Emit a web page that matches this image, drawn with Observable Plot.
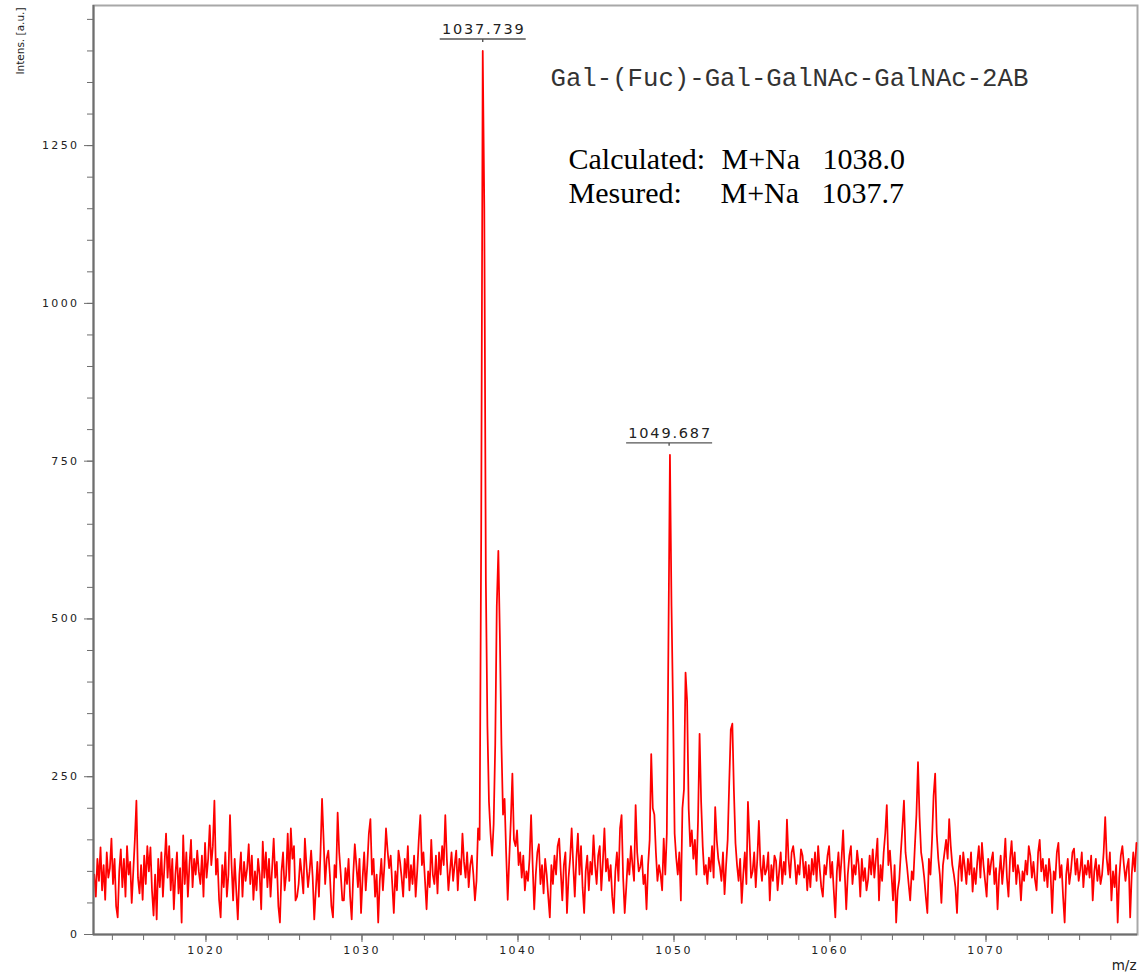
<!DOCTYPE html>
<html><head><meta charset="utf-8">
<script src="https://cdn.jsdelivr.net/npm/d3@7"></script>
<script src="https://cdn.jsdelivr.net/npm/@observablehq/plot@0.6"></script>
<style>
body{margin:0;background:#fff;}
#chart svg g[aria-label="y-axis tick label"] text,
#chart svg g[aria-label="x-axis tick label"] text{letter-spacing:2.4px;}
</style>
</head><body><div id="chart"></div>
<script>
const mzStart = 1012.84;
const mzStep = 0.1;
const intensity = [
 95, 60, 120, 85, 138, 70, 110, 55, 130, 90,
 105, 152, 80, 120, 45, 27, 100, 135, 75, 120,
 60, 140, 95, 115, 50, 100, 150, 212, 90, 65,
 110, 55, 125, 80, 140, 100, 138, 70, 30, 95,
 24, 120, 75, 130, 60, 110, 160, 90, 140, 70,
 120, 40, 95, 130, 65, 105, 19, 157, 80, 130,
 60, 110, 150, 75, 120, 95, 133, 100, 80, 125,
 60, 145, 90, 120, 173, 110, 140, 212, 95, 120,
 55, 27, 110, 75, 130, 60, 95, 189, 110, 54,
 120, 70, 24, 95, 130, 60, 115, 85, 105, 143,
 80, 125, 55, 100, 70, 120, 95, 40, 147, 90,
 130, 75, 120, 60, 105, 152, 90, 115, 45, 19,
 100, 130, 70, 95, 160, 85, 168, 120, 140, 54,
 60, 80, 120, 95, 65, 152, 110, 75, 100, 133,
 90, 24, 70, 115, 60, 130, 215, 150, 80, 120,
 133, 95, 45, 27, 110, 90, 193, 130, 95, 54,
 54, 105, 80, 120, 60, 24, 95, 143, 110, 75,
 120, 34, 90, 130, 70, 110, 160, 183, 95, 120,
 60, 95, 19, 85, 120, 70, 110, 168, 133, 105,
 125, 80, 34, 100, 70, 133, 115, 90, 60, 120,
 90, 140, 70, 110, 80, 125, 60, 100, 150, 189,
 110, 130, 85, 40, 100, 75, 150, 95, 80, 125,
 65, 130, 95, 140, 110, 189, 120, 70, 100, 130,
 85, 110, 133, 70, 120, 95, 160, 115, 90, 130,
 75, 110, 125, 95, 54, 85, 168, 150, 630, 1400,
 1150, 560, 330, 210, 160, 125, 175, 300, 520, 608,
 470, 300, 190, 215, 130, 55, 120, 180, 255, 150,
 140, 165, 110, 130, 90, 125, 70, 100, 85, 120,
 189, 110, 40, 95, 130, 143, 80, 110, 65, 120,
 95, 60, 27, 110, 80, 125, 95, 140, 152, 100,
 54, 110, 130, 34, 90, 120, 168, 110, 60, 120,
 160, 95, 140, 75, 34, 100, 125, 70, 115, 95,
 157, 110, 80, 125, 140, 70, 115, 168, 100, 120,
 85, 110, 60, 34, 100, 130, 85, 168, 189, 90,
 34, 75, 120, 95, 140, 110, 85, 205, 130, 100,
 107, 125, 80, 95, 40, 110, 150, 286, 200, 190,
 130, 85, 110, 95, 70, 152, 95, 160, 455, 760,
 520, 355, 160, 122, 95, 130, 54, 200, 230, 415,
 370, 200, 140, 165, 120, 150, 95, 180, 318, 210,
 140, 95, 110, 80, 122, 100, 140, 90, 202, 150,
 120, 107, 85, 130, 64, 110, 150, 240, 325, 334,
 228, 145, 110, 85, 120, 50, 95, 130, 80, 210,
 150, 90, 100, 130, 75, 120, 180, 110, 85, 125,
 95, 103, 130, 54, 110, 85, 125, 117, 70, 100,
 130, 80, 115, 95, 182, 120, 90, 130, 140, 117,
 80, 110, 95, 135, 125, 90, 115, 70, 110, 75,
 120, 95, 130, 85, 140, 105, 75, 60, 110, 95,
 125, 140, 90, 115, 70, 27, 100, 130, 85, 120,
 165, 100, 40, 95, 125, 140, 80, 110, 95, 133,
 110, 60, 120, 85, 105, 70, 87, 125, 95, 135,
 90, 120, 152, 54, 110, 85, 130, 160, 205, 110,
 133, 95, 54, 110, 19, 70, 87, 130, 170, 212,
 130, 107, 80, 54, 100, 87, 140, 190, 273, 186,
 130, 113, 90, 60, 34, 120, 95, 150, 220, 255,
 160, 120, 95, 50, 110, 130, 150, 120, 183, 140,
 110, 95, 75, 34, 100, 125, 85, 130, 107, 80,
 120, 95, 130, 68, 105, 80, 115, 140, 90, 145,
 110, 85, 60, 120, 95, 117, 130, 80, 105, 40,
 95, 125, 80, 110, 152, 90, 60, 120, 148, 100,
 130, 80, 110, 95, 54, 100, 85, 117, 95, 140,
 125, 90, 115, 87, 70, 130, 150, 100, 120, 85,
 110, 75, 120, 95, 34, 100, 87, 130, 145, 90,
 110, 60, 19, 95, 120, 80, 100, 130, 136, 95,
 120, 85, 103, 130, 75, 110, 95, 117, 90, 125,
 54, 100, 120, 85, 110, 80, 95, 130, 186, 120,
 95, 130, 54, 100, 75, 110, 19, 90, 125, 140,
 110, 85, 107, 120, 27, 95, 130, 100, 145
];

const xDomain = [1012.79, 1079.71];
const yDomain = [0, 1472];
const xTicks = [1020, 1030, 1040, 1050, 1060, 1070];
const yTicks = [0, 250, 500, 750, 1000, 1250];
const xMinorStep = 2;
const yMinorStep = 50;

const peakMz = [1037.739, 1049.687];
const peakIntensity = [1400, 760];
const peakLabels = ["1037.739", "1049.687"];

const compoundName = "Gal-(Fuc)-Gal-GalNAc-GalNAc-2AB";
const massRowLabels = ["Calculated:", "Mesured:"];
const massIon = ["M+Na", "M+Na"];
const massValues = ["1038.0", "1037.7"];
const yLabel = "Intens. [a.u.]";
const xLabel = "m/z";

const spectrum = intensity.map((v, i) => ({mz: mzStart + i * mzStep, v}));
const peaks = peakMz.map((mz, i) => ({mz, v: peakIntensity[i], label: peakLabels[i]}));
const xMinor = d3.range(1014, 1080, xMinorStep);
const yMinor = d3.range(0, 1472, yMinorStep);
const massRows = massRowLabels.map((l, i) => ({label: l, ion: massIon[i], val: massValues[i], row: i}));

const underline = {draw(ctx) { ctx.moveTo(-43, 0); ctx.lineTo(43, 0); ctx.moveTo(0, 0); ctx.lineTo(0, 3); }};
const axisColor = "#6e6e6e";
const tickFont = "DejaVu Sans";
const serif = {frameAnchor: "top-left", textAnchor: "start", lineAnchor: "bottom", fontFamily: "Liberation Serif", fontSize: 30, fill: "#000"};

const chart = Plot.plot({
  width: 1143,
  height: 977,
  marginLeft: 93,
  marginRight: 6,
  marginTop: 5,
  marginBottom: 43,
  style: {fontFamily: tickFont, fontSize: "11px", color: "#222", background: "#fff"},
  x: {domain: xDomain, axis: null, label: null},
  y: {domain: yDomain, axis: null, label: null},
  marks: [
    Plot.frame({stroke: "#a8a8a8", strokeWidth: 2}),
    Plot.line(spectrum, {x: "mz", y: "v", stroke: "#ff0000", strokeWidth: 1.75, strokeLinejoin: "round"}),
    Plot.axisY({ticks: yMinor, tickSize: 6, text: null, label: null, stroke: axisColor}),
    Plot.axisY({ticks: yTicks, tickSize: 9, tickPadding: 5, label: null, tickFormat: d => String(d), stroke: axisColor, fill: "#222", fontSize: 11}),
    Plot.axisX({ticks: xMinor, tickSize: 6, text: null, label: null, stroke: axisColor}),
    Plot.axisX({ticks: xTicks, tickSize: 8, tickPadding: 4, label: null, tickFormat: d => String(d), stroke: axisColor, fill: "#222", fontSize: 11}),
    Plot.ruleX([xDomain[0]], {stroke: axisColor, strokeWidth: 2}),
    Plot.ruleY([0], {stroke: axisColor, strokeWidth: 2}),
    Plot.dot(peaks, {x: "mz", y: "v", symbol: underline, stroke: "#555", fill: "none", strokeWidth: 1.4, dy: -12}),
    Plot.text(peaks, {x: "mz", y: "v", text: "label", dy: -17, dx: 1, lineAnchor: "bottom", fontSize: 14.5, fill: "#222", fontFamily: tickFont}),
    Plot.text([yLabel], {frameAnchor: "top-left", dx: -73, dy: 2, rotate: -90, textAnchor: "end", lineAnchor: "middle", fontSize: 10.5, fill: "#222"}),
    Plot.text([xLabel], {frameAnchor: "bottom-right", dx: -1, dy: 35, textAnchor: "end", lineAnchor: "bottom", fontSize: 13.5, fill: "#222"}),
    Plot.text([compoundName], {frameAnchor: "top-left", dx: 457, dy: 80, textAnchor: "start", lineAnchor: "bottom", fontFamily: "Liberation Mono", fontSize: 25.7, fill: "#333"}),
    Plot.text(massRows.filter(d => d.row === 0), {...serif, text: "label", dx: 475, dy: 163}),
    Plot.text(massRows.filter(d => d.row === 0), {...serif, text: "ion", dx: 628, dy: 163}),
    Plot.text(massRows.filter(d => d.row === 0), {...serif, text: "val", dx: 729, dy: 163}),
    Plot.text(massRows.filter(d => d.row === 1), {...serif, text: "label", dx: 475, dy: 197}),
    Plot.text(massRows.filter(d => d.row === 1), {...serif, text: "ion", dx: 627, dy: 197}),
    Plot.text(massRows.filter(d => d.row === 1), {...serif, text: "val", dx: 728, dy: 197})
  ]
});
document.getElementById("chart").appendChild(chart);
d3.select(chart).selectAll("text").filter(function() { return peakLabels.includes(this.textContent); })
  .style("letter-spacing", "1.8px");
</script>
</body></html>
